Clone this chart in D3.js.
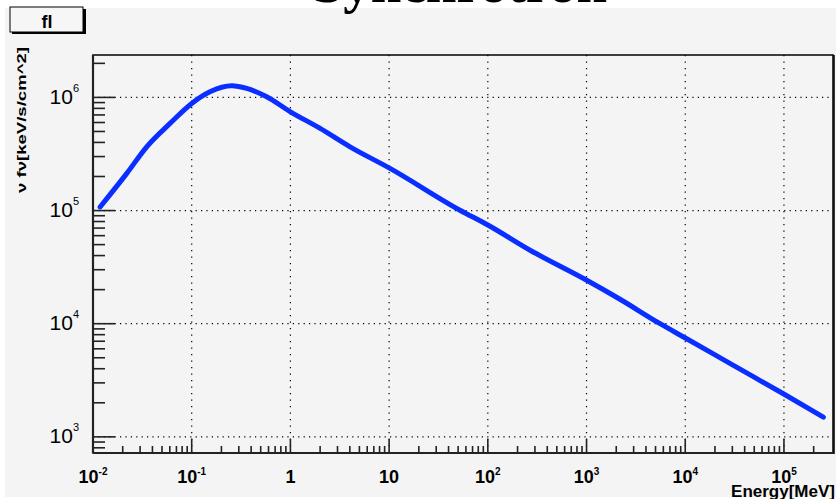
<!DOCTYPE html>
<html><head><meta charset="utf-8">
<script src="https://cdn.jsdelivr.net/npm/d3@7"></script>
<style>html,body{margin:0;padding:0;background:#fff;}svg{display:block;}</style>
</head><body>
<svg id="c" width="836" height="499"></svg>
<script>
// ---- data ----
const energy = [0.0118, 0.0219, 0.035, 0.0603, 0.1, 0.153, 0.254, 0.361, 0.575, 1.0, 2.0, 4.02, 10.2, 52.2, 101, 268, 1005, 2183, 5560, 10350, 30760, 98600, 250600];
const flux   = [1.076e5, 2.12e5, 3.66e5, 5.89e5, 8.85e5, 1.122e6, 1.268e6, 1.202e6, 1.012e6, 7.46e5, 5.32e5, 3.66e5, 2.36e5, 1.007e5, 7.41e4, 4.46e4, 2.42e4, 1.644e4, 1.0e4, 7360, 4276, 2404, 1493];
const xMajor = [1e-2, 1e-1, 1, 10, 1e2, 1e3, 1e4, 1e5];
const xLabels = [["10","-2"],["10","-1"],["1",""],["10",""],["10","2"],["10","3"],["10","4"],["10","5"]];
const yMajor = [1e3, 1e4, 1e5, 1e6];
const yLabels = [["10","3"],["10","4"],["10","5"],["10","6"]];
const xDomain = [0.01, 3.14e5];
const yDomain = [720, 2.37e6];
const titleText = "Synchrotron";
const statText = "fl";
const xTitle = "Energy[MeV]";
const yTitle = "ν fν[keV/s/cm^2]";

const svg = d3.select("#c");
const L = 93, R = 833, T = 55, B = 453;
const x = d3.scaleLog().domain(xDomain).range([L, R]);
const y = d3.scaleLog().domain(yDomain).range([B, T]);

// canvas background
svg.append("rect").attr("x",5).attr("y",8).attr("width",831).attr("height",489).attr("fill","#f4f4f4");

// title (mostly cut at the top)
svg.append("text").attr("x",460).attr("y",2).attr("text-anchor","middle")
  .attr("font-family","Liberation Serif, serif").attr("font-weight","bold").attr("font-size",55)
  .attr("fill","#000").text(titleText);

// stat box
svg.append("rect").attr("x",12).attr("y",9).attr("width",74).attr("height",25).attr("fill","#000");
svg.append("rect").attr("x",10).attr("y",7).attr("width",73).attr("height",25).attr("fill","#f6f6f6").attr("stroke","#000").attr("stroke-width",1);
svg.append("text").attr("x",47).attr("y",28).attr("text-anchor","middle")
  .attr("font-family","Liberation Sans, Arial, sans-serif").attr("font-weight","bold").attr("font-size",18).text(statText);

// frame fill
svg.append("rect").attr("x",L).attr("y",T).attr("width",R-L).attr("height",B-T).attr("fill","#f4f4f4");

// grid
const g = svg.append("g");
xMajor.filter(v => v > xDomain[0]).forEach(v => {
  g.append("line").attr("x1",x(v)).attr("x2",x(v)).attr("y1",T).attr("y2",B)
   .attr("stroke","#000").attr("stroke-width",1.2).attr("stroke-dasharray","1.2,5.3");
});
yMajor.forEach(v => {
  g.append("line").attr("x1",L).attr("x2",R).attr("y1",y(v)).attr("y2",y(v))
   .attr("stroke","#000").attr("stroke-width",1.2).attr("stroke-dasharray","1.2,4.2");
});

// curve
const line = d3.line().x((d,i)=>x(energy[i])).y((d,i)=>y(flux[i])).curve(d3.curveMonotoneX);
svg.append("path").attr("d", line(flux)).attr("fill","none").attr("stroke","#0a2eff")
  .attr("stroke-width",5).attr("stroke-linejoin","round").attr("stroke-linecap","round");

// ticks
const ticks = svg.append("g").attr("stroke","#222").attr("stroke-width",1.6);
const lx0 = Math.floor(Math.log10(xDomain[0])), lx1 = Math.ceil(Math.log10(xDomain[1]));
for (let e = lx0; e <= lx1; e++) {
  for (let k = 1; k <= 9; k++) {
    const v = k * Math.pow(10, e);
    if (v < xDomain[0] || v > xDomain[1]) continue;
    const px = x(v); if (px > R - 2) continue;
    const len = k === 1 ? 14 : 7;
    ticks.append("line").attr("x1",px).attr("x2",px).attr("y1",B).attr("y2",B-len);
  }
}
const ly0 = Math.floor(Math.log10(yDomain[0])), ly1 = Math.ceil(Math.log10(yDomain[1]));
for (let e = ly0; e <= ly1; e++) {
  for (let k = 1; k <= 9; k++) {
    const v = k * Math.pow(10, e);
    if (v < yDomain[0] || v > yDomain[1]) continue;
    const py = y(v);
    const len = k === 1 ? 22 : 12;
    ticks.append("line").attr("x1",L).attr("x2",L+len).attr("y1",py).attr("y2",py);
  }
}

// frame
svg.append("rect").attr("x",L).attr("y",T).attr("width",R-L).attr("height",B-T)
  .attr("fill","none").attr("stroke","#000").attr("stroke-width",1.5);
svg.append("line").attr("x1",L).attr("x2",L).attr("y1",T).attr("y2",B).attr("stroke","#222").attr("stroke-width",2.2);
svg.append("line").attr("x1",L).attr("x2",R).attr("y1",B).attr("y2",B).attr("stroke","#222").attr("stroke-width",2.2);
svg.append("line").attr("x1",R+1).attr("x2",R+1).attr("y1",T).attr("y2",B+1).attr("stroke","#000").attr("stroke-width",1.5);

// x labels
xMajor.forEach((v,i) => {
  const t = svg.append("text").attr("x",x(v)).attr("y",483).attr("text-anchor","middle")
    .attr("font-family","Liberation Sans, Arial, sans-serif").attr("font-weight","bold").attr("font-size",18);
  t.append("tspan").text(xLabels[i][0]);
  if (xLabels[i][1]) t.append("tspan").attr("dy",-8).attr("font-size",10).text(xLabels[i][1]);
});

// y labels
yMajor.forEach((v,i) => {
  const t = svg.append("text").attr("x",79).attr("y",y(v)+6.5).attr("text-anchor","end")
    .attr("font-family","Liberation Sans, Arial, sans-serif").attr("font-size",21);
  t.append("tspan").text(yLabels[i][0]);
  t.append("tspan").attr("dy",-12).attr("font-size",11).text(yLabels[i][1]);
});

// axis titles
svg.append("text").attr("x",835).attr("y",497).attr("text-anchor","end")
  .attr("font-family","Liberation Sans, Arial, sans-serif").attr("font-weight","bold").attr("font-size",17).text(xTitle);
svg.append("text").attr("transform","translate(26,47) rotate(-90)").attr("text-anchor","end")
  .attr("font-family","Liberation Sans, Arial, sans-serif").attr("font-weight","bold").attr("font-size",13)
  .attr("textLength",146).attr("lengthAdjust","spacingAndGlyphs").text(yTitle);
</script>
</body></html>
